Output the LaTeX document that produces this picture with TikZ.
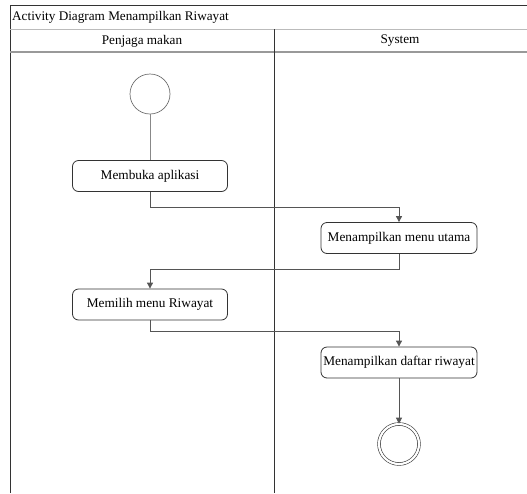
\documentclass[tikz,border=0pt]{standalone}
\usepackage{fontspec}
\setmainfont{Liberation Serif}
\usetikzlibrary{arrows.meta}
\definecolor{frame}{HTML}{333333}
\definecolor{conn}{HTML}{555555}
\definecolor{lightline}{HTML}{BBBBBB}
\definecolor{headline}{HTML}{999999}
\tikzset{
  actbox/.style={draw=frame, line width=0.8pt, rounded corners=6pt, minimum width=155pt, minimum height=31pt, inner sep=0pt, font=\fontsize{13.3}{15}\selectfont, fill=white},
  startnode/.style={draw=frame!70, circle, minimum size=40pt, inner sep=0pt, line width=0.7pt},
  endnode/.style={draw=frame, circle, minimum size=40pt, inner sep=0pt, double=white, double distance=2.2pt, line width=0.6pt},
  flow/.style={draw=conn, line width=0.9pt, -{Triangle[length=6pt,width=6pt]}},
  plainflow/.style={draw=conn!70, line width=0.8pt},
  lbl/.style={font=\fontsize{13.2}{15}\selectfont, inner sep=0pt}
}
\begin{document}
\begin{tikzpicture}[x=1pt,y=-1pt]
\useasboundingbox (0,0) rectangle (527,493);
% frame
\draw[frame, line width=1pt] (10,493) -- (10,5) -- (527,5);
\draw[lightline, line width=1pt] (10,29) -- (527,29);
\draw[headline, line width=2pt] (10,52) -- (527,52);
\draw[frame, line width=1pt] (274,29) -- (274,493);
\node[lbl, anchor=west] (title) at (12,17) {Activity Diagram Menampilkan Riwayat};
\node[lbl] (lane1) at (142,41) {Penjaga makan};
\node[lbl] (lane2) at (400,41) {System};
% nodes
\node[startnode] (start) at (150,94) {};
\node[actbox] (a1) at (150,176) {Membuka aplikasi};
\node[actbox, minimum width=156pt] (s1) at (399,238) {Menampilkan menu utama};
\node[actbox] (a2) at (150,304.5) {Memilih menu Riwayat};
\node[actbox, minimum width=156pt] (s2) at (399,362.5) {Menampilkan daftar riwayat};
\node[endnode] (end) at (399,444) {};
% connectors
\draw[plainflow] (start) -- (a1);
\draw[flow] (a1.south) -- ++(0,16) -| (s1.north);
\draw[flow] (s1.south) -- ++(0,16) -| (a2.north);
\draw[flow] (a2.south) -- ++(0,11) -| (s2.north);
\draw[flow] (s2) -- (end);
\end{tikzpicture}
\end{document}
